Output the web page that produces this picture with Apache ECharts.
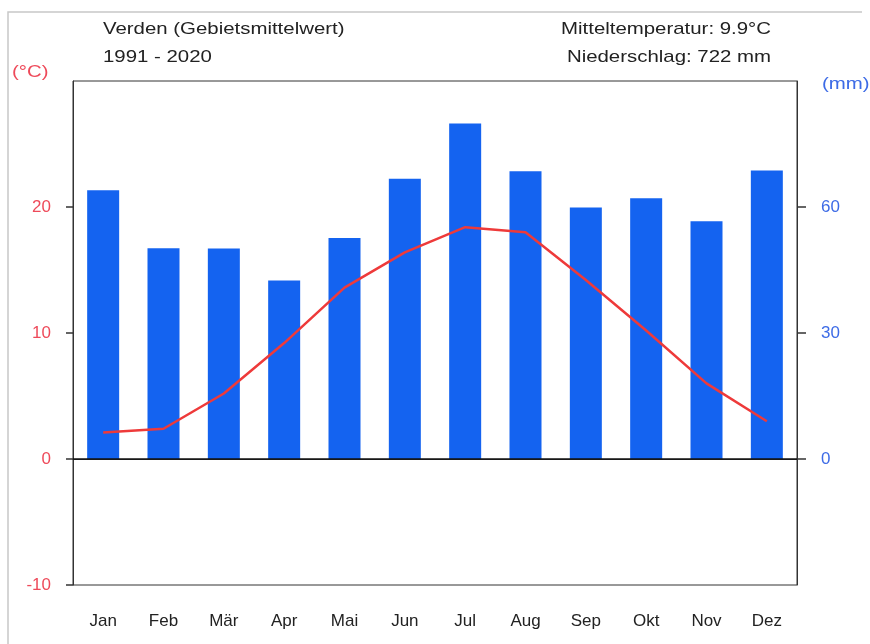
<!DOCTYPE html>
<html>
<head>
<meta charset="utf-8">
<script src="https://cdn.jsdelivr.net/npm/echarts@6/dist/echarts.min.js"></script>
<style>
html,body{margin:0;padding:0;background:#fff;}
#klima{width:870px;height:644px;}
</style>
</head>
<body>
<div id="klima"></div>
<script>
var monate = ['Jan', 'Feb', 'Mär', 'Apr', 'Mai', 'Jun', 'Jul', 'Aug', 'Sep', 'Okt', 'Nov', 'Dez'];
var niederschlag = [64.0, 50.2, 50.1, 42.5, 52.6, 66.7, 79.9, 68.5, 59.9, 62.1, 56.6, 68.7];
var temperatur = [2.1, 2.4, 5.2, 9.2, 13.6, 16.4, 18.4, 18.0, 14.2, 10.2, 6.0, 3.0];
var tempTicks = [-10, 0, 10, 20];
var mmTicks = [0, 30, 60];

var dom = document.getElementById("klima");
var myChart = echarts.init(dom);
var option = null;
var fontFam = 'Liberation Sans, Arial, sans-serif';

// kleine Hilfsfunktion fuer die Texte oben (etwas breit gezogen wie im Original)
function txt(x, y, s, align, color) {
    return {
        type: 'text',
        x: x,
        y: y,
        scaleX: 1.2,
        style: {
            text: s,
            fontSize: 17,
            fill: color || '#222',
            fontFamily: fontFam,
            textAlign: align,
            textVerticalAlign: 'middle'
        }
    };
}

option = {
    backgroundColor: '#fff',
    animation: false,
    textStyle: { fontFamily: fontFam },
    graphic: [
        {
            type: 'polyline',
            shape: { points: [[8, 644], [8, 12], [862, 12]] },
            style: { stroke: '#c8c8c8', lineWidth: 1.5, fill: null }
        },
        txt(103, 29, 'Verden (Gebietsmittelwert)', 'left'),
        txt(103, 57, '1991 - 2020', 'left'),
        txt(771, 29, 'Mitteltemperatur: 9.9°C', 'right'),
        txt(771, 57, 'Niederschlag: 722 mm', 'right'),
        txt(12, 72, '(°C)', 'left', '#ee4a5a'),
        txt(822, 84, '(mm)', 'left', '#3d6be6')
    ],
    grid: {
        left: 73,
        right: 73,
        top: 81,
        bottom: 59,
        show: true,
        borderColor: '#333',
        borderWidth: 1
    },
    xAxis: {
        type: 'category',
        data: monate,
        boundaryGap: true,
        axisLine: { lineStyle: { color: '#333', width: 1 } },
        axisTick: { alignWithLabel: true, length: 10, lineStyle: { color: '#333' } },
        axisLabel: { color: '#222', fontSize: 17, margin: 28 }
    },
    yAxis: [
        {
            type: 'value',
            min: -10,
            max: 30,
            interval: 10,
            splitLine: { show: false },
            axisLine: { show: true, lineStyle: { color: '#333' } },
            axisTick: { show: true, length: 7, customValues: tempTicks, lineStyle: { color: '#333', width: 1.5 } },
            axisLabel: { color: '#ee4a5a', fontSize: 17, margin: 22, customValues: tempTicks }
        },
        {
            type: 'value',
            min: -30,
            max: 90,
            interval: 30,
            splitLine: { show: false },
            axisLine: { show: true, lineStyle: { color: '#333' } },
            axisTick: { show: true, length: 9, customValues: mmTicks, lineStyle: { color: '#333', width: 1.5 } },
            axisLabel: { color: '#3d6be6', fontSize: 17, margin: 24, customValues: mmTicks }
        }
    ],
    series: [
        {
            name: 'Niederschlag',
            type: 'bar',
            yAxisIndex: 1,
            data: niederschlag,
            barWidth: 32,
            itemStyle: { color: '#1463f0' },
            markLine: {
                silent: true,
                symbol: 'none',
                label: { show: false },
                lineStyle: { color: '#111', width: 1.5, type: 'solid' },
                data: [{ yAxis: 0 }]
            },
            z: 2
        },
        {
            name: 'Temperatur',
            type: 'line',
            yAxisIndex: 0,
            data: temperatur,
            symbol: 'none',
            lineStyle: { color: '#ee3a3a', width: 2.5 },
            z: 3
        }
    ]
};

if (option && typeof option === "object") {
    myChart.setOption(option, true);
}
</script>
</body>
</html>
